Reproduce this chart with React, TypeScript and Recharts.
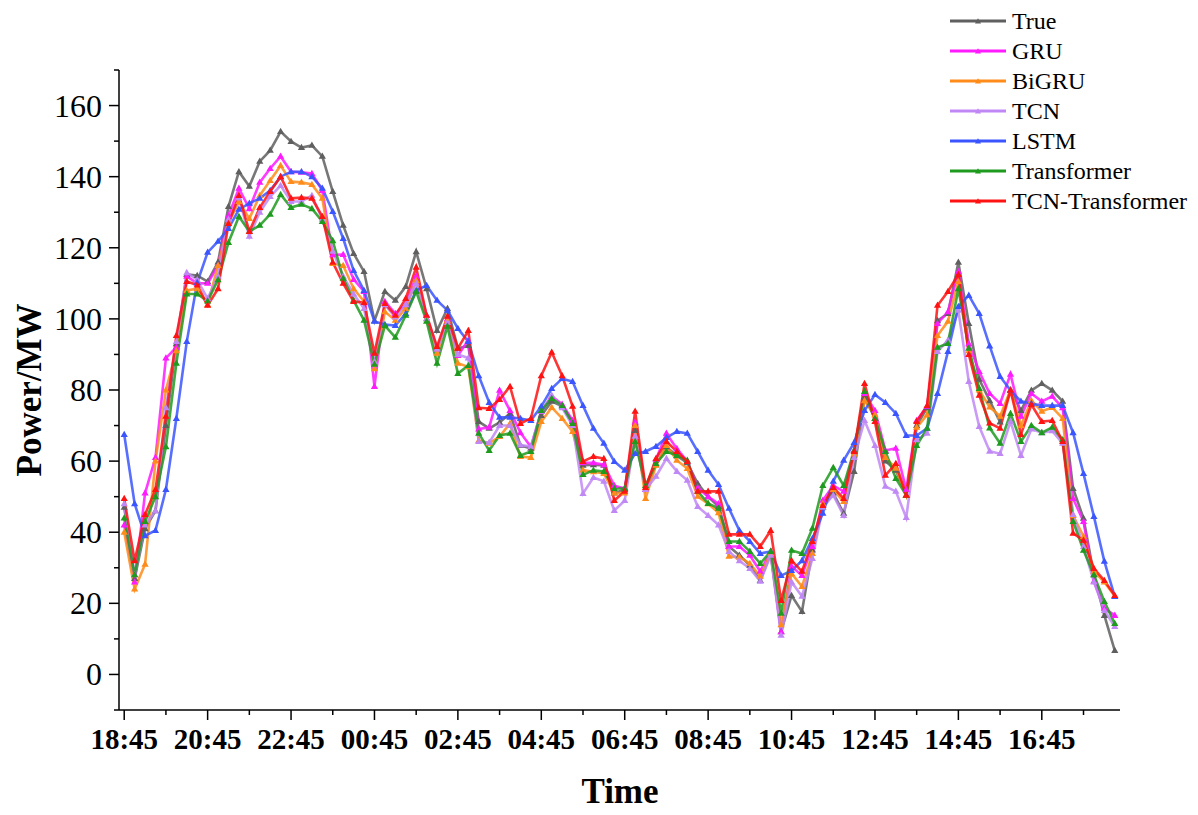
import React from "react";
import { LineChart, Line, XAxis, YAxis, Label } from "recharts";

// 15-minute steps, 18:45 -> 18:30 next day
const tickLabels = ["18:45", "20:45", "22:45", "00:45", "02:45", "04:45", "06:45", "08:45", "10:45", "12:45", "14:45", "16:45"];

const trueV = [
  47, 27, 41, 46, 70, 93, 112.5, 112.2, 110.5, 116, 131.6, 141.4, 137.3, 144.3, 147.4, 152.7,
  149.9, 148.2, 148.8, 145.7, 135.8, 126.3, 118.4, 113.3, 99.5, 107.7, 105.2, 109.1, 118.9, 108.5, 96.7, 102.9,
  91.7, 92.5, 71.1, 69.2, 70.9, 73.4, 64.4, 63.6, 72.8, 76.8, 75.4, 71.1, 58.8, 59, 58.8, 51,
  52, 68.6, 52, 59, 64, 61.5, 59.5, 53.7, 50, 47.2, 36, 33.5, 30.7, 26.4, 34, 12,
  22.2, 17.7, 35, 47, 51, 45.3, 57.1, 78, 72, 60, 57.4, 50.4, 70, 75, 99.5, 101.5,
  115.9, 98.7, 83, 77, 71, 80, 74.2, 79.9, 81.8, 79.9, 76.8, 52.3, 43.9, 28, 16.6, 6.7,
];
const gruV = [
  42, 26, 51, 61, 89, 92, 112, 110, 110, 115, 129, 136.7, 131, 138.4, 142.3, 145.7,
  141.4, 141.2, 140.9, 136.1, 118, 118.1, 111.1, 107.7, 81, 104.9, 101.5, 104, 112, 101, 91.5, 100,
  89.7, 94, 69, 69.5, 79.9, 74.2, 68, 64, 74, 78.2, 76, 71.5, 59.5, 59.5, 59, 53.1,
  52.3, 71, 52, 60.5, 67.8, 63.5, 60, 52.5, 50, 48, 36, 36, 33.5, 29, 34.5, 12,
  30.4, 27.8, 36, 49, 53.1, 51.5, 63, 79, 74.2, 63, 63.6, 52, 71.4, 75.4, 98.7, 102,
  113.3, 93, 85.2, 79, 76.2, 84.4, 72.6, 79, 76.8, 78.2, 75, 49.5, 43, 26.2, 18.6, 16.6,
];
const bigruV = [
  40, 24, 31, 60, 80, 91, 108, 108.5, 104, 115, 127, 133, 128.2, 134.7, 138.9, 143.1,
  138.6, 138.4, 137.8, 133.9, 115.6, 115, 108.5, 104.9, 86, 102, 99.6, 102.9, 110.8, 100, 90.3, 99.5,
  87.5, 86.5, 65.8, 65, 66.9, 70.6, 61.3, 61, 71.1, 75.1, 72, 68.3, 57.5, 57, 56.5, 51,
  51, 70, 49.5, 58.8, 64.4, 60.2, 57.9, 50.1, 48, 45.5, 33.2, 33, 31.2, 27.6, 34, 14,
  28.4, 24.7, 34, 48, 52, 48.6, 62, 77, 73, 61, 58, 50.4, 69.5, 73, 95.3, 99.3,
  110.5, 91, 80, 75.2, 72.6, 80, 70, 77, 74, 75.1, 72, 44.7, 38.8, 29, 26, 22,
];
const tcnV = [
  48, 28, 42, 46, 75, 93.6, 113, 111, 105.7, 112, 128, 134, 123.2, 130, 134.4, 137.5,
  133, 133, 134.7, 128, 119, 112, 107, 102.9, 88, 104, 100.5, 104, 110, 100, 91.5, 99,
  90, 89, 65.5, 65.2, 70, 70, 64.5, 64.1, 74, 78.5, 75, 70, 50.9, 55.4, 54.3, 46.1,
  48.9, 67, 52, 55.7, 60.7, 57.1, 54.6, 47.2, 44.7, 42, 34.6, 32, 29.8, 26.2, 33.5, 11,
  26, 22, 32.6, 47, 50.4, 44.7, 61, 71.4, 64.4, 52.9, 51.5, 44.1, 66, 67.8, 90.8, 94,
  102.4, 82.4, 69.7, 62.8, 62.1, 71.1, 61.6, 69, 68, 68.5, 65, 45, 36, 26, 18, 13.5,
];
const lstmV = [
  67.5, 48, 39, 40.5, 52, 72, 93.6, 110.2, 118.7, 121.8, 125.4, 130.8, 132.5, 133.9, 136.1, 140,
  141.4, 141.4, 140, 136.7, 130.2, 122.6, 113.6, 108, 99.3, 98.4, 98.1, 101.5, 108, 109.4, 105.2, 102.4,
  97.3, 93.6, 84, 76.5, 72.3, 72.3, 72, 71.4, 75.4, 80.4, 83.2, 82.4, 75.6, 69.2, 65, 59.9,
  57.4, 62.1, 62.7, 64.1, 66.6, 68.3, 67.8, 62.7, 57.4, 53.4, 46.7, 40.5, 37.4, 34, 34.6, 27.8,
  29.2, 32, 38.2, 45.3, 54.3, 60.2, 65.2, 74.2, 78.7, 76.5, 73.4, 67.2, 67.2, 69.2, 79, 90.8,
  103.5, 106.6, 101.5, 92.4, 83.8, 79.9, 76.8, 76.2, 75.6, 75.6, 75.6, 68, 56.5, 44.4, 31.8, 21.9,
];
const transV = [
  44, 28, 43, 50, 64, 87.5, 107, 107, 105, 111, 121.5, 128.8, 124.6, 126.3, 129.4, 135,
  131.3, 132.2, 131, 127.4, 122, 111.4, 105.2, 99.6, 87.2, 98.1, 94.8, 101, 107.7, 99.3, 87.5, 97.9,
  84.6, 86.9, 67.8, 63, 67.2, 67.8, 61.6, 62.7, 74.2, 77.6, 75.6, 70.6, 56.2, 57.4, 57.1, 52.3,
  52.3, 65.5, 53.1, 59.3, 62.7, 61.6, 60.2, 51.5, 48.1, 46.7, 37.4, 37.4, 34.6, 31.2, 34.6, 17.2,
  34.9, 34, 41.1, 53.1, 58.2, 53.1, 63, 79.6, 72, 62.7, 55.1, 50.4, 64.4, 69.2, 92, 93.1,
  108.5, 91.7, 80.4, 69.3, 65, 73.4, 65.5, 70, 68, 69.5, 66, 43, 34.9, 28, 20.5, 14.3,
];
const tcnTransV = [
  49.5, 32, 45, 52, 72.6, 95.3, 110.5, 109.5, 103.8, 108.5, 126.8, 134.7, 124.6, 131.3, 135.8, 140,
  133.9, 134.1, 133.9, 128.8, 115.9, 110, 104.9, 104.6, 90.3, 104.3, 101, 105.7, 114.5, 101, 92.2, 100.7,
  91.7, 96.7, 75, 74.8, 77.3, 81, 70.6, 72, 84, 90.6, 84, 75.4, 59.9, 61.3, 60.7, 48.9,
  51.5, 74, 52.6, 60.7, 65.5, 62.7, 59.9, 51.5, 51.5, 51.5, 39.4, 39.4, 39.4, 36, 40.5, 20.8,
  32, 29, 37.4, 47.5, 52.6, 49.5, 62.7, 81.8, 71.1, 56, 59.3, 50.4, 71.1, 75.6, 103.8, 107.7,
  112.5, 90, 78.5, 70.7, 69.2, 79.9, 67.5, 75.9, 71.1, 71.4, 65.5, 39.7, 37.7, 29.8, 26.4, 22.2,
];

const series = [
  { key: "True", values: trueV, color: "#5f5f5f" },
  { key: "GRU", values: gruV, color: "#ff1aff" },
  { key: "BiGRU", values: bigruV, color: "#ff8c1a" },
  { key: "TCN", values: tcnV, color: "#c088f5" },
  { key: "LSTM", values: lstmV, color: "#3a55ff" },
  { key: "Transformer", values: transV, color: "#1e9a1e" },
  { key: "TCN-Transformer", values: tcnTransV, color: "#ff1212" },
];

const data = trueV.map((_, i) => {
  const row: Record<string, number> = { idx: i };
  series.forEach((s) => (row[s.key] = s.values[i]));
  return row;
});

const xTicks = Array.from({ length: 24 }, (_, k) => k * 4);
const yTicks = Array.from({ length: 19 }, (_, k) => -10 + k * 10);

const FONT = "'Liberation Serif', 'Times New Roman', serif";

function tri(cx: number, cy: number, r = 3.8) {
  return `M${cx},${cy - r} L${cx + r * 0.95},${cy + r * 0.65} L${cx - r * 0.95},${cy + r * 0.65} Z`;
}

const makeDot = (color: string) => (props: any) => {
  const { cx, cy, index } = props;
  if (cx == null || cy == null) return <g key={index} />;
  return <path key={index} d={tri(cx, cy)} fill={color} />;
};

const XTick = (props: any) => {
  const { x, y, payload } = props;
  const major = payload.value % 8 === 0;
  return (
    <g>
      <line x1={x} y1={y} x2={x} y2={y + (major ? 10 : 5)} stroke="#000" strokeWidth={1.5} />
      {major && (
        <text x={x} y={y + 39} textAnchor="middle" fontFamily={FONT} fontWeight="bold" fontSize={29} fill="#000">
          {tickLabels[payload.value / 8]}
        </text>
      )}
    </g>
  );
};

const YTick = (props: any) => {
  const { x, y, payload } = props;
  const v = payload.value;
  const major = v % 20 === 0;
  return (
    <g>
      <line x1={x - (major ? 10 : 5)} y1={y} x2={x} y2={y} stroke="#000" strokeWidth={1.5} />
      {major && v >= 0 && v <= 160 && (
        <text x={x - 17} y={y + 11} textAnchor="end" fontFamily={FONT} fontSize={32} fill="#000">
          {v}
        </text>
      )}
    </g>
  );
};

function LegendBox() {
  return (
    <div style={{ position: "absolute", left: 948, top: 6, fontFamily: FONT, fontSize: 24 }}>
      {series.map((s) => (
        <div key={s.key} style={{ display: "flex", alignItems: "center", height: 30 }}>
          <svg width={60} height={12} style={{ marginRight: 4 }}>
            <line x1={2} y1={6} x2={58} y2={6} stroke={s.color} strokeWidth={3} />
            <path d={tri(30, 6.5, 3.2)} fill={s.color} />
          </svg>
          <span style={{ lineHeight: "30px" }}>{s.key}</span>
        </div>
      ))}
    </div>
  );
}

export default function App() {
  return (
    <div style={{ position: "absolute", left: 0, top: 0, width: 1198, height: 815, background: "#fff" }}>
      <LineChart width={1198} height={815} data={data} margin={{ top: 70, right: 78, bottom: 0, left: 0 }}>
        <XAxis
          dataKey="idx"
          type="number"
          domain={[-0.5, 95.5]}
          ticks={xTicks}
          interval={0}
          height={105}
          tickSize={0}
          tickMargin={0}
          tickLine={false}
          tick={XTick}
          axisLine={{ stroke: "#000", strokeWidth: 1.5 }}
        >
          <Label
            content={() => (
              <text x={620} y={803} textAnchor="middle" fontFamily={FONT} fontWeight="bold" fontSize={35} fill="#000">
                Time
              </text>
            )}
          />
        </XAxis>
        <YAxis
          type="number"
          domain={[-10, 170]}
          ticks={yTicks}
          interval={0}
          width={119}
          tickSize={0}
          tickMargin={0}
          tickLine={false}
          tick={YTick}
          axisLine={{ stroke: "#000", strokeWidth: 1.5 }}
        >
          <Label
            content={() => (
              <text
                x={41}
                y={390}
                transform="rotate(-90, 41, 390)"
                textAnchor="middle"
                fontFamily={FONT}
                fontWeight="bold"
                fontSize={35}
                fill="#000"
              >
                Power/MW
              </text>
            )}
          />
        </YAxis>
        {series.map((s) => (
          <Line
            key={s.key}
            type="linear"
            dataKey={s.key}
            stroke={s.color}
            strokeWidth={2.6}
            strokeOpacity={0.85}
            dot={makeDot(s.color)}
            activeDot={false}
            isAnimationActive={false}
          />
        ))}
      </LineChart>
      <LegendBox />
    </div>
  );
}
